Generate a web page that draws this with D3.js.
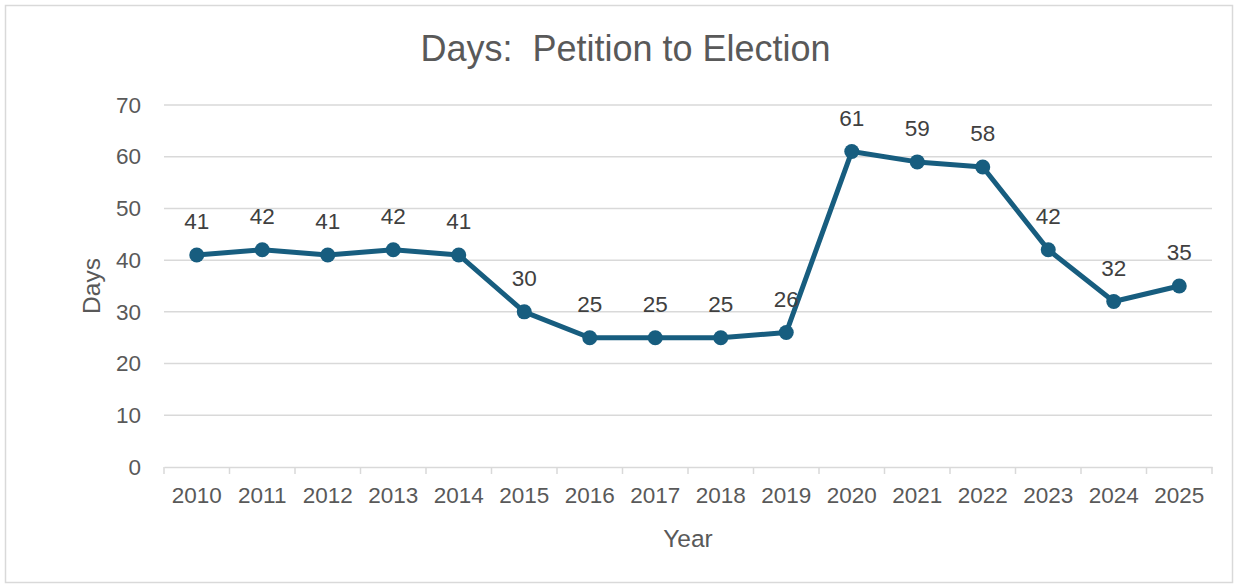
<!DOCTYPE html>
<html><head><meta charset="utf-8">
<script src="https://cdn.jsdelivr.net/npm/d3@7"></script>
<style>body{margin:0;background:#fff;}svg{display:block;}</style>
</head><body>
<script>
const years = ["2010","2011","2012","2013","2014","2015","2016","2017","2018","2019","2020","2021","2022","2023","2024","2025"];
const days = [41,42,41,42,41,30,25,25,25,26,61,59,58,42,32,35];
const yTicks = [0,10,20,30,40,50,60,70];

const W=1235,H=585;
const m={left:164,right:1212,top:105,bottom:467};
const font="'Liberation Sans', Arial, sans-serif";
const svg=d3.select("body").append("svg").attr("width",W).attr("height",H);
svg.append("rect").attr("x",5.5).attr("y",5.5).attr("width",W-8).attr("height",H-8)
  .attr("fill","#fff").attr("stroke","#d9d9d9").attr("stroke-width",1.5);

const x=d3.scaleBand().domain(years).range([m.left,m.right]);
const y=d3.scaleLinear().domain([0,70]).range([m.bottom,m.top]);

svg.append("g").selectAll("line").data(yTicks.filter(d=>d>0)).join("line")
  .attr("x1",m.left).attr("x2",m.right).attr("y1",d=>y(d)).attr("y2",d=>y(d))
  .attr("stroke","#d9d9d9").attr("stroke-width",1.5);

const ya=svg.append("g").attr("transform",`translate(${m.left},0)`)
  .call(d3.axisLeft(y).tickValues(yTicks).tickSize(0).tickPadding(23));
ya.select(".domain").remove();
ya.selectAll("text").attr("font-family",font).attr("font-size",22.5).attr("fill","#595959");

const xa=svg.append("g").attr("transform",`translate(0,${m.bottom})`)
  .call(d3.axisBottom(x).tickSize(0).tickPadding(20));
xa.select(".domain").attr("stroke","#d9d9d9").attr("stroke-width",1.5);
xa.selectAll("text").attr("font-family",font).attr("font-size",22.5).attr("fill","#595959");
const bounds=years.map(d=>x(d)).concat([x(years[years.length-1])+x.bandwidth()]);
svg.append("g").selectAll("line").data(bounds).join("line")
  .attr("x1",d=>d).attr("x2",d=>d).attr("y1",m.bottom).attr("y2",m.bottom+7)
  .attr("stroke","#d9d9d9").attr("stroke-width",1.5);

const cx=d=>x(d)+x.bandwidth()/2;
const data=years.map((yr,i)=>({yr,v:days[i]}));
svg.append("path").datum(data)
  .attr("d",d3.line().x(d=>cx(d.yr)).y(d=>y(d.v)))
  .attr("fill","none").attr("stroke","#175d7f").attr("stroke-width",5).attr("stroke-linejoin","round");
svg.append("g").selectAll("circle").data(data).join("circle")
  .attr("cx",d=>cx(d.yr)).attr("cy",d=>y(d.v)).attr("r",7.5).attr("fill","#175d7f");
svg.append("g").selectAll("text").data(data).join("text")
  .attr("x",d=>cx(d.yr)).attr("y",d=>y(d.v)-26).attr("text-anchor","middle")
  .attr("font-family",font).attr("font-size",22.5).attr("fill","#404040").text(d=>d.v);

svg.append("text").attr("x",625.5).attr("y",61).attr("text-anchor","middle")
  .attr("font-family",font).attr("font-size",36).attr("fill","#595959").attr("xml:space","preserve")
  .text("Days:  Petition to Election");
svg.append("text").attr("x",688).attr("y",547).attr("text-anchor","middle")
  .attr("font-family",font).attr("font-size",24.5).attr("fill","#595959").text("Year");
svg.append("text").attr("transform","translate(100,286) rotate(-90)").attr("text-anchor","middle")
  .attr("font-family",font).attr("font-size",24.5).attr("fill","#595959").text("Days");
</script>
</body></html>
